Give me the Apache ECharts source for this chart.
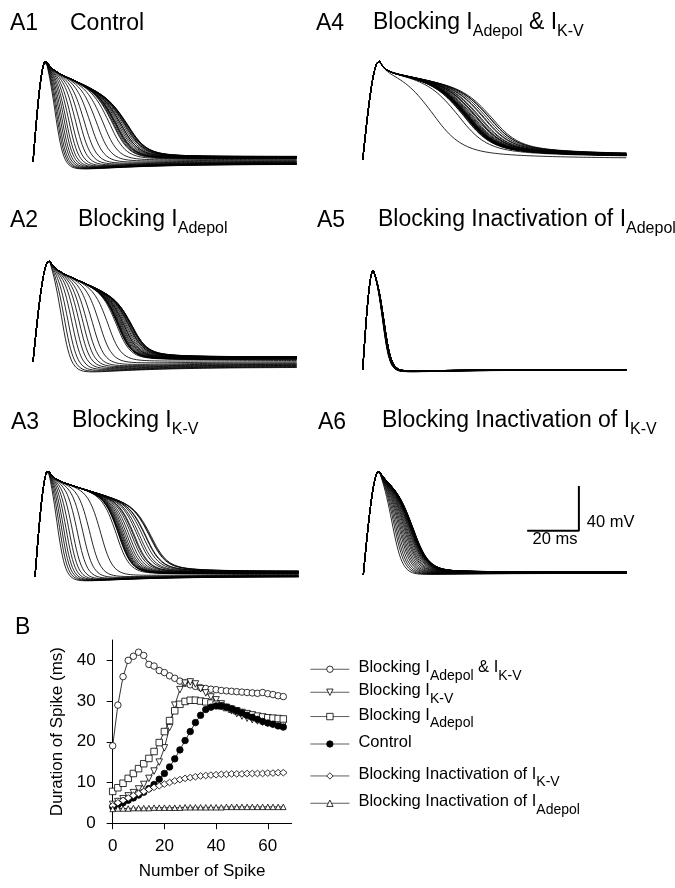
<!DOCTYPE html>
<html><head><meta charset="utf-8">
<script src="https://cdn.jsdelivr.net/npm/echarts@6.0.0/dist/echarts.min.js"></script>
<style>html,body{margin:0;padding:0;background:#fff}#c{width:675px;height:888px}</style>
</head><body><div id="c"></div><script>
const FONT = '"Liberation Sans", Arial, Helvetica, sans-serif';

// ---------- Panel B: spike duration (ms) vs spike number ----------
const spikeNumber = [0,2,4,6,8,10,12,14,16,18,20,22,24,26,28,30,32,34,36,38,40,42,44,46,48,50,52,54,56,58,60,62,64,66];
const blockBoth = [19,29,36,40,41,42,41.2,39,38.6,37.5,37,36.2,35.6,34.9,34.4,34,33.6,33.3,33.1,32.9,32.8,32.6,32.5,32.4,32.3,32.2,32.1,32,31.9,32.1,31.8,31.6,31.3,31.1];
const blockKV = [4.6,5.3,6,6.7,7.5,8.4,9.5,11,12.8,15,18.5,23.5,29,32.8,34.4,34.7,34.2,33,32,31,30.3,29.3,28.4,27.6,26.9,26.3,25.8,25.4,25.1,24.8,24.6,24.4,24.3,24.2];
const blockAdepol = [7.8,8.7,9.8,11,12.2,13.4,14.6,15.9,17.6,19.8,22.5,25.2,27.6,29.2,29.9,30.2,30.2,30,29.8,29.5,29.2,28.8,28.4,28,27.6,27.2,26.9,26.6,26.3,26.1,25.9,25.8,25.7,25.6];
const control = [4,4.5,5,5.6,6.2,6.9,7.6,8.5,9.5,10.8,12.2,13.8,15.8,18,20.3,22.5,24.7,26.5,27.9,28.5,28.8,28.8,28.5,28.1,27.6,27.1,26.5,26,25.5,25,24.6,24.3,23.9,23.6];
const blockInactKV = [4.3,5,5.6,6.2,6.8,7.3,7.8,8.3,8.8,9.2,9.6,10,10.4,10.7,11,11.2,11.4,11.6,11.7,11.8,11.9,12,12,12.1,12.1,12.1,12.2,12.2,12.2,12.2,12.3,12.3,12.4,12.4];
const blockInactAdepol = [3.5,3.6,3.6,3.6,3.7,3.7,3.7,3.7,3.8,3.8,3.8,3.8,3.8,3.8,3.9,3.9,3.9,3.9,3.9,3.9,3.9,3.9,4,4,4,4,4,4,4,4,4,4,4,4];
const xTicks = [0,20,40,60];
const yTicks = [0,10,20,30,40];

// ---------- Panels A1-A6: action-potential shape ----------
// (ms and mV from spike onset; each trace's repolarisation follows its duration in B)
const shapeA1 = {tp:5.0, vp:91,   vn:84, slope:1.0,  tr:[8.6,37],  w:[1.6,3.5], vr:[-2,5],  u:[8,0],   tail:[0,6.8], tauT:10};
const shapeA2 = {tp:6.3, vp:91,   vn:84, slope:1.0,  tr:[11,38.5], w:[1.8,2.8], vr:[-5,4.5],u:[8,0],   tail:[0,6.8], tauT:10};
const shapeA3 = {tp:5.1, vp:95.5, vn:88, slope:0.7,  tr:[8.5,45],  w:[1.6,3.0], vr:[0,5],   u:[7,0],   tail:[0,6.8], tauT:12};
const shapeA4 = {tp:6.4, vp:89,   vn:80, slope:0.45, tr:[27,50],   w:[5.5,5.0], vr:[1.5,5], u:[0,0],   tail:[10,10], tauT:25};
const shapeA5 = {tp:4.1, vp:89.5, vn:84, slope:1.0,  tr:[7.8,8.3], w:[1.3,1.4], vr:[0,0.5], u:[3,2.5], tail:[0,0],   tauT:10};
const shapeA6 = {tp:6.1, vp:93.4, vn:88, slope:1.2,  tr:[11.3,19.5],w:[2,3],    vr:[1.5,3], u:[2,0],   tail:[0,5],   tauT:8};
const traceTimeMs = 102;
const scaleBar = {ms:20, mV:40, corner:[83.4,39.7]};

const seriesNames = ['Blocking IAdepol & IK-V','Blocking IK-V','Blocking IAdepol','Control','Blocking Inactivation of IK-V','Blocking Inactivation of IAdepol'];

function spikeTrace(D, Dmin, Dmax, s) {
  const f = Dmax > Dmin ? (D - Dmin) / (Dmax - Dmin) : 0;
  const lerp = a => a[0] + (a[1] - a[0]) * f;
  const tr = lerp(s.tr), w = lerp(s.w), vr = lerp(s.vr), u = lerp(s.u), T = lerp(s.tail);
  const sig = t => 1 / (1 + Math.exp((t - tr) / w));
  const s0 = sig(s.tp);
  const pts = [];
  for (let k = 0; k <= traceTimeMs * 2; k++) {
    const t = k / 2;
    let v;
    if (t <= s.tp) v = s.vp * Math.sin(Math.PI / 2 * t / s.tp);
    else {
      const dt = t - s.tp;
      const P = s.vn - s.slope * dt + (s.vp - s.vn) * Math.exp(-dt / 2);
      const d = Math.max(0, t - tr);
      const R = vr - u * (Math.exp(-d / 25) - Math.exp(-d / 5)) + T * Math.exp(-d / s.tauT);
      v = R + (P - R) * sig(t) / s0;
    }
    pts.push([t, v]);
  }
  return pts;
}

const chart = echarts.init(document.getElementById('c'), null, {renderer:'canvas'});

const PX_MS = 2.585, PX_MV = 1.117;
const panels = [
  {durations:control,          shape:shapeA1, left:33,    base:162},
  {durations:blockAdepol,      shape:shapeA2, left:33,    base:361.7},
  {durations:blockKV,          shape:shapeA3, left:35,    base:576.7},
  {durations:blockBoth,        shape:shapeA4, left:362.7, base:160},
  {durations:blockInactAdepol, shape:shapeA5, left:362.7, base:370},
  {durations:blockInactKV,     shape:shapeA6, left:363.3, base:575}
];
const grids = [], xAxes = [], yAxes = [], series = [];
panels.forEach((p, i) => {
  grids.push({left:p.left, top:p.base - 100*PX_MV, width:traceTimeMs*PX_MS, height:120*PX_MV});
  xAxes.push({type:'value', gridIndex:i, min:0, max:traceTimeMs, show:false});
  yAxes.push({type:'value', gridIndex:i, min:-20, max:100, show:false});
  const Dmin = Math.min(...p.durations), Dmax = Math.max(...p.durations);
  p.durations.forEach(D => {
    series.push({type:'line', xAxisIndex:i, yAxisIndex:i, data:spikeTrace(D, Dmin, Dmax, p.shape),
      symbol:'none', silent:true, lineStyle:{color:'#000', width:0.85}, z:1});
  });
});
// scale bar in A6 coordinates
series.push({type:'line', xAxisIndex:5, yAxisIndex:5, symbol:'none', silent:true, z:2,
  data:[[scaleBar.corner[0]-scaleBar.ms, scaleBar.corner[1]], scaleBar.corner, [scaleBar.corner[0], scaleBar.corner[1]+scaleBar.mV]],
  lineStyle:{color:'#000', width:2}});

// Panel B
const gB = grids.length;
grids.push({left:112.7, top:640, width:69.2*PX_MS, height:45*4.07});
const axisFont = {fontSize:17, fontFamily:FONT, color:'#000'};
xAxes.push({type:'value', gridIndex:gB, min:0, max:69.2,
  axisLine:{show:true, onZero:false, lineStyle:{color:'#000', width:1}},
  axisTick:{show:true, length:6, customValues:xTicks, lineStyle:{color:'#000', width:1}},
  axisLabel:Object.assign({customValues:xTicks, margin:15}, axisFont),
  splitLine:{show:false},
  name:'Number of Spike', nameLocation:'middle', nameGap:40, nameTextStyle:axisFont});
yAxes.push({type:'value', gridIndex:gB, min:0, max:45,
  axisLine:{show:true, onZero:false, lineStyle:{color:'#000', width:1}},
  axisTick:{show:true, length:6, customValues:yTicks, lineStyle:{color:'#000', width:1}},
  axisLabel:Object.assign({customValues:yTicks, margin:17}, axisFont),
  splitLine:{show:false},
  name:'Duration of Spike (ms)', nameLocation:'middle', nameGap:47, nameRotate:90, nameTextStyle:axisFont});

const bValues = [blockBoth, blockKV, blockAdepol, control, blockInactKV, blockInactAdepol];
const bSymbols = [
  {symbol:'circle', size:6.5, fill:'#fff', rotate:0},
  {symbol:'triangle', size:6.5, fill:'#fff', rotate:180},
  {symbol:'rect', size:6.5, fill:'#fff', rotate:0},
  {symbol:'circle', size:6.5, fill:'#000', rotate:0},
  {symbol:'diamond', size:[7.5,6.5], fill:'#fff', rotate:0},
  {symbol:'triangle', size:5.5, fill:'#fff', rotate:0}
];
seriesNames.forEach((name, i) => {
  const st = bSymbols[i];
  series.push({type:'line', name, xAxisIndex:gB, yAxisIndex:gB,
    data:spikeNumber.map((x, k) => [x, bValues[i][k]]),
    symbol:st.symbol, symbolSize:st.size, symbolRotate:st.rotate, showSymbol:true,
    itemStyle:{color:st.fill, borderColor:'#000', borderWidth:0.8},
    lineStyle:{color:'#000', width:0.8}, z:5+i});
});

const legendText = {
  'Blocking IAdepol & IK-V':'{f|Blocking I}{s|Adepol}{m| & I}{s|K-V}',
  'Blocking IK-V':'{f|Blocking I}{s|K-V}',
  'Blocking IAdepol':'{f|Blocking I}{s|Adepol}',
  'Control':'{f|Control}',
  'Blocking Inactivation of IK-V':'{f|Blocking Inactivation of I}{s|K-V}',
  'Blocking Inactivation of IAdepol':'{f|Blocking Inactivation of I}{s|Adepol}'
};
const legendRich = {
  f:{fontSize:16.5, lineHeight:20, verticalAlign:'top', fontFamily:FONT, color:'#000', padding:[0,0,0,4]},
  m:{fontSize:16.5, lineHeight:20, verticalAlign:'top', fontFamily:FONT, color:'#000'},
  s:{fontSize:14, lineHeight:14, verticalAlign:'top', fontFamily:FONT, color:'#000', padding:[9.5,0,0,0]}
};
const legendIconY = [671, 694, 718.3, 744, 777.7, 805];
const legends = seriesNames.map((name, i) => ({
  data:[name], left:310, top:legendIconY[i] - (name === 'Control' ? 10 : 11.75),
  itemWidth:39, itemHeight:8, padding:0, itemGap:0, selectedMode:false,
  itemStyle:{borderWidth:0.8, borderColor:'#000'},
  lineStyle:{width:0.8, color:'#333'},
  formatter:n => legendText[n], textStyle:{rich:legendRich}
}));

const titleRich = {
  m:{fontSize:23, lineHeight:26, verticalAlign:'top', fontFamily:FONT, color:'#000'},
  s:{fontSize:16, lineHeight:16, verticalAlign:'top', fontFamily:FONT, color:'#000', padding:[12.5,0,0,0]}
};
function T(text, left, top, size) {
  return {text, left, top, padding:0, itemGap:0,
    textStyle:{fontSize:size || 23, lineHeight:26, fontWeight:'normal', fontFamily:FONT, color:'#000', rich:titleRich}};
}
const titles = [
  T('A1', 10, 11), T('Control', 70, 11),
  T('A4', 316, 11), T('{m|Blocking I}{s|Adepol}{m| & I}{s|K-V}', 373, 11),
  T('A2', 10, 208), T('{m|Blocking I}{s|Adepol}', 78, 208),
  T('A5', 317, 208), T('{m|Blocking Inactivation of I}{s|Adepol}', 378, 208),
  T('A3', 11, 409.5), T('{m|Blocking I}{s|K-V}', 72, 409.5),
  T('A6', 318, 409.5), T('{m|Blocking Inactivation of I}{s|K-V}', 382, 409.5),
  T('B', 15, 615),
  {text:'40 mV', left:586.7, top:512, padding:0, textStyle:{fontSize:16.5, lineHeight:20, fontWeight:'normal', fontFamily:FONT, color:'#000'}},
  {text:'20 ms', left:532.5, top:529, padding:0, textStyle:{fontSize:16.5, lineHeight:20, fontWeight:'normal', fontFamily:FONT, color:'#000'}}
];

chart.setOption({
  backgroundColor:'#fff',
  animation:false,
  title:titles,
  legend:legends,
  grid:grids,
  xAxis:xAxes,
  yAxis:yAxes,
  series
});
</script></body></html>
